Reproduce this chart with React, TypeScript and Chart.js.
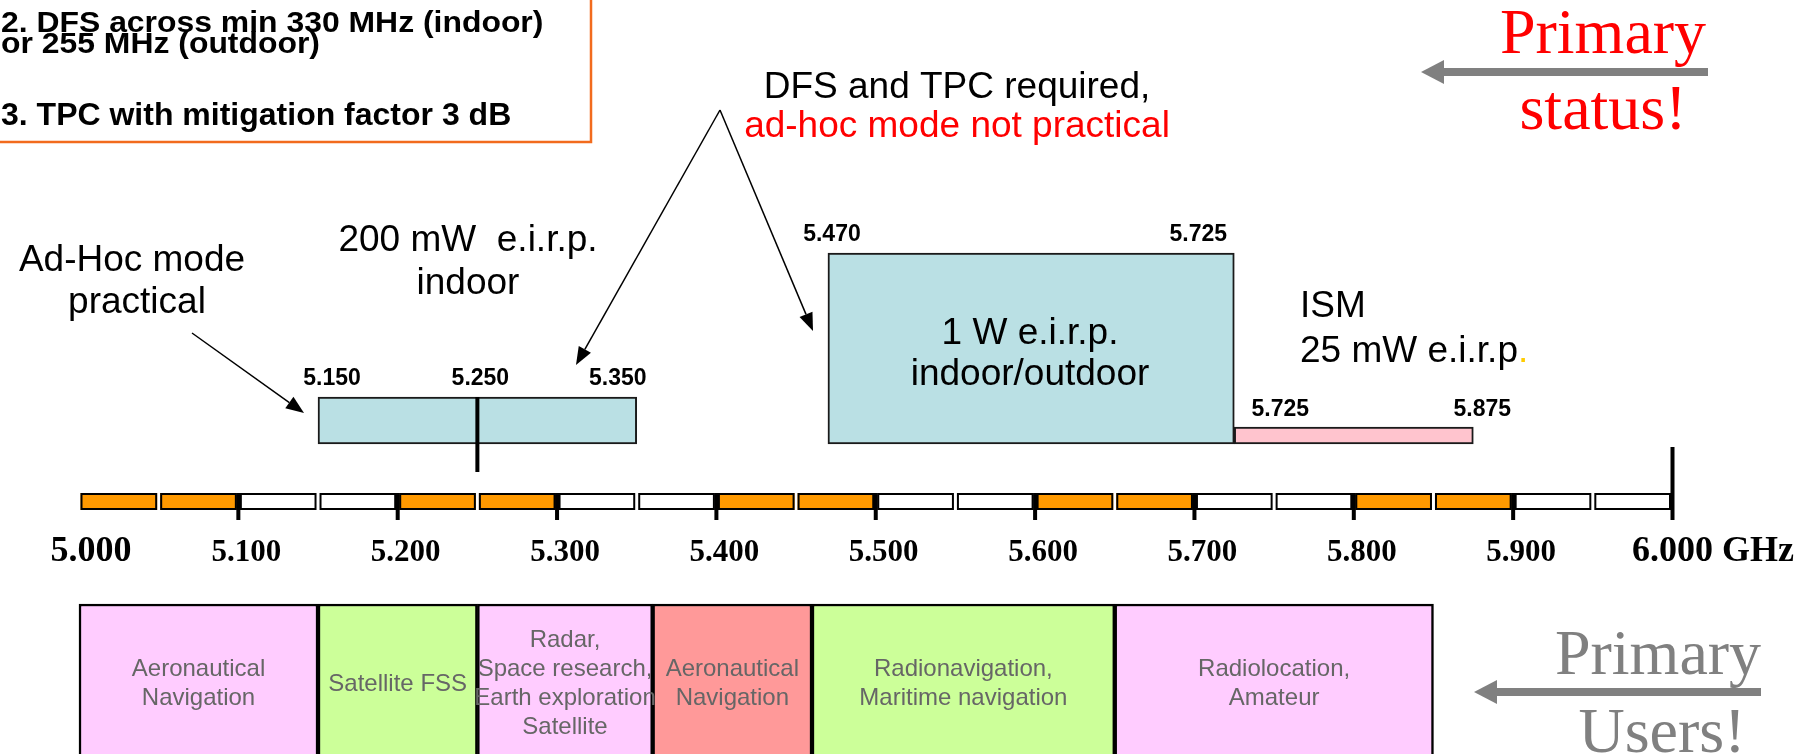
import React, { useEffect, useRef } from 'react';
import { Chart, registerables } from 'chart.js';

Chart.register(...registerables);

// ---------------- data ----------------
const axisTickValues = [5.0, 5.1, 5.2, 5.3, 5.4, 5.5, 5.6, 5.7, 5.8, 5.9, 6.0];
const axisTickLabels = ['5.000', '5.100', '5.200', '5.300', '5.400', '5.500', '5.600', '5.700', '5.800', '5.900', '6.000'];
const axisUnit = 'GHz';

const channelStarts = [5.0, 5.05, 5.1, 5.15, 5.2, 5.25, 5.3, 5.35, 5.4, 5.45, 5.5, 5.55, 5.6, 5.65, 5.7, 5.75, 5.8, 5.85, 5.9, 5.95];
const channelEnds = [5.05, 5.1, 5.15, 5.2, 5.25, 5.3, 5.35, 5.4, 5.45, 5.5, 5.55, 5.6, 5.65, 5.7, 5.75, 5.8, 5.85, 5.9, 5.95, 6.0];
const channelMarked = [true, true, false, false, true, true, false, false, true, true, false, false, true, true, false, false, true, true, false, false];

const rlanStart = [5.15, 5.47, 5.725];
const rlanEnd = [5.35, 5.725, 5.875];
const rlanSplit = 5.25;
const rlanEdgeValues = [5.15, 5.25, 5.35, 5.47, 5.725, 5.725, 5.875];
const rlanEdgeLabels = ['5.150', '5.250', '5.350', '5.470', '5.725', '5.725', '5.875'];

const userStart = [5.0, 5.15, 5.25, 5.36, 5.46, 5.65];
const userEnd = [5.15, 5.25, 5.36, 5.46, 5.65, 5.85];
const userLabels = [
  ['Aeronautical', 'Navigation'],
  ['Satellite FSS'],
  ['Radar,', 'Space research,', 'Earth exploration', 'Satellite'],
  ['Aeronautical', 'Navigation'],
  ['Radionavigation,', 'Maritime navigation'],
  ['Radiolocation,', 'Amateur'],
];

// ---------------- layout & style ----------------
const W = 1818;
const H = 754;
const SANS = '"Liberation Sans", Arial, Helvetica, sans-serif';
const SERIF = '"Liberation Serif", "Times New Roman", Times, serif';

const L = {
  xMin: 4.950424,
  xMax: 6.091309,
  stripTop: 493,
  stripBottom: 510,
  tickBottom: 520,
  endTickTop: 447,
  rlanBottom: 444,
  rlanTop: [397, 253, 427],
  splitBottom: 472,
  userTop: 604,
  userThickness: 200,
  tickLabelBaseline: 561,
  tickLabelShift: 8,
  firstLabelShift: 12,
  edgeLabelShift: [14, 3, -19, 4, -36, 46, 9],
  edgeLabelBaseline: [385, 385, 385, 241, 241, 416, 416],
  userLineHeight: 29,
  userTextCenter: 682,
};

const rlanColors = ['#BAE0E4', '#BAE0E4', '#FFC4CE'];
const userColors = ['#FFCCFF', '#CCFF99', '#FFCCFF', '#FF9999', '#CCFF99', '#FFCCFF'];

function drawArrow(ctx: CanvasRenderingContext2D, x0: number, y0: number, x1: number, y1: number, headLen: number, headW: number, lineW: number, color: string) {
  const ang = Math.atan2(y1 - y0, x1 - x0);
  const bx = x1 - headLen * Math.cos(ang);
  const by = y1 - headLen * Math.sin(ang);
  ctx.strokeStyle = color;
  ctx.lineWidth = lineW;
  ctx.beginPath();
  ctx.moveTo(x0, y0);
  ctx.lineTo(bx, by);
  ctx.stroke();
  ctx.fillStyle = color;
  ctx.beginPath();
  ctx.moveTo(x1, y1);
  ctx.lineTo(bx + headW * Math.sin(ang), by - headW * Math.cos(ang));
  ctx.lineTo(bx - headW * Math.sin(ang), by + headW * Math.cos(ang));
  ctx.closePath();
  ctx.fill();
}

function txt(ctx: CanvasRenderingContext2D, s: string, x: number, y: number, font: string, color: string, align: CanvasTextAlign = 'center', sx = 1) {
  ctx.save();
  ctx.font = font;
  ctx.fillStyle = color;
  ctx.textAlign = align;
  ctx.textBaseline = 'alphabetic';
  ctx.translate(x, y);
  ctx.scale(sx, 1);
  ctx.fillText(s, 0, 0);
  ctx.restore();
}

const diagramPlugin = {
  id: 'diagram',
  afterDatasetsDraw(chart: any) {
    const ctx: CanvasRenderingContext2D = chart.ctx;
    const xs = chart.scales.x;
    const px = (v: number) => xs.getPixelForValue(v);
    ctx.save();

    // channel strip
    for (let i = 0; i < channelStarts.length; i++) {
      const x0 = px(channelStarts[i]) + 1.5;
      const x1 = px(channelEnds[i]) - 1.5;
      ctx.fillStyle = channelMarked[i] ? '#FF9900' : '#FFFFFF';
      ctx.fillRect(x0, L.stripTop, x1 - x0, L.stripBottom - L.stripTop);
      ctx.strokeStyle = '#000';
      ctx.lineWidth = 2;
      ctx.strokeRect(x0 + 1, L.stripTop + 1, x1 - x0 - 2, L.stripBottom - L.stripTop - 2);
    }
    // ticks
    ctx.fillStyle = '#000';
    for (let i = 1; i < axisTickValues.length; i++) {
      const x = px(axisTickValues[i]);
      const top = i === axisTickValues.length - 1 ? L.endTickTop : L.stripTop;
      ctx.fillRect(x - 2, top, 4, L.tickBottom - top);
    }
    // tick labels
    for (let i = 0; i < axisTickValues.length; i++) {
      const x = px(axisTickValues[i]);
      const last = i === axisTickValues.length - 1;
      if (i === 0) {
        txt(ctx, axisTickLabels[i], x + L.firstLabelShift, L.tickLabelBaseline, `bold 36px ${SERIF}`, '#000');
      } else if (last) {
        ctx.font = `bold 36px ${SERIF}`;
        const w = ctx.measureText(axisTickLabels[i]).width;
        txt(ctx, axisTickLabels[i] + ' ' + axisUnit, x - w / 2, L.tickLabelBaseline, `bold 36px ${SERIF}`, '#000', 'left');
      } else {
        txt(ctx, axisTickLabels[i], x + L.tickLabelShift, L.tickLabelBaseline, `bold 31px ${SERIF}`, '#000');
      }
    }

    // split line at 5.250
    ctx.fillStyle = '#000';
    ctx.fillRect(px(rlanSplit) - 2, L.rlanTop[0], 4, L.splitBottom - L.rlanTop[0]);

    // edge labels
    for (let i = 0; i < rlanEdgeValues.length; i++) {
      txt(ctx, rlanEdgeLabels[i], px(rlanEdgeValues[i]) + L.edgeLabelShift[i], L.edgeLabelBaseline[i], `bold 23px ${SANS}`, '#000');
    }

    // user labels
    for (let i = 0; i < userLabels.length; i++) {
      const cx = px((userStart[i] + userEnd[i]) / 2);
      const lines = userLabels[i];
      const y0 = L.userTextCenter - ((lines.length - 1) * L.userLineHeight) / 2;
      lines.forEach((s, j) => {
        txt(ctx, s, cx, y0 + j * L.userLineHeight + 8.5, `24px ${SANS}`, '#666666');
      });
    }

    // Annotation texts
    const f37 = `37px ${SANS}`;
    txt(ctx, 'Ad-Hoc mode', 132, 271, f37, '#000');
    txt(ctx, 'practical', 137, 313, f37, '#000');
    txt(ctx, '200 mW  e.i.r.p.', 468, 251, f37, '#000');
    txt(ctx, 'indoor', 468, 294, f37, '#000');
    txt(ctx, '1 W e.i.r.p.', 1030, 344, f37, '#000');
    txt(ctx, 'indoor/outdoor', 1030, 385, f37, '#000');
    txt(ctx, 'ISM', 1300, 317, f37, '#000', 'left');
    txt(ctx, '25 mW e.i.r.p', 1300, 362, f37, '#000', 'left');
    ctx.font = f37;
    const w25 = ctx.measureText('25 mW e.i.r.p').width;
    txt(ctx, '.', 1300 + w25, 362, f37, '#FFCC00', 'left');
    txt(ctx, 'DFS and TPC required,', 957, 98, f37, '#000');
    txt(ctx, 'ad-hoc mode not practical', 957, 137, f37, '#FF0000');

    // black annotation arrows
    drawArrow(ctx, 192, 333, 304, 413, 18, 7, 1.5, '#000');
    drawArrow(ctx, 720, 110, 576, 365, 18, 7, 1.5, '#000');
    drawArrow(ctx, 720, 110, 813, 331, 18, 7, 1.5, '#000');

    // top-left box
    ctx.strokeStyle = '#F26B1D';
    ctx.lineWidth = 2.5;
    ctx.strokeRect(-3, -3, 594, 145);
    txt(ctx, '2. DFS across min 330 MHz (indoor)', 1, 32, `bold 29px ${SANS}`, '#000', 'left', 1.1);
    txt(ctx, 'or 255 MHz (outdoor)', 1, 53, `bold 29px ${SANS}`, '#000', 'left', 1.1);
    txt(ctx, '3. TPC with mitigation factor 3 dB', 1, 125, `bold 32px ${SANS}`, '#000', 'left');

    // Primary status / users
    const fs = `64px ${SERIF}`;
    txt(ctx, 'Primary', 1603, 53, fs, '#FF0000');
    txt(ctx, 'status!', 1603, 129, fs, '#FF0000');
    drawArrow(ctx, 1708, 72, 1421, 72, 23, 12, 8, '#808080');
    txt(ctx, 'Primary', 1658, 674, fs, '#808080');
    txt(ctx, 'Users!', 1662, 752, fs, '#808080');
    drawArrow(ctx, 1761, 692, 1474, 692, 23, 12, 8, '#808080');

    ctx.restore();
  },
};

export default function App() {
  const ref = useRef<HTMLCanvasElement>(null);
  useEffect(() => {
    const canvas = ref.current;
    if (!canvas) return;

    const datasets: any[] = rlanStart.map((s, i) => ({
      label: `RLAN ${i}`,
      data: [{ x: [s, rlanEnd[i]], y: (L.rlanTop[i] + L.rlanBottom) / 2 }],
      barThickness: L.rlanBottom - L.rlanTop[i],
      backgroundColor: rlanColors[i],
      borderColor: '#1a1a1a',
      borderWidth: 2,
      borderSkipped: false,
      grouped: false,
    }));
    datasets.push({
      label: 'Primary users',
      data: userStart.map((s, i) => ({ x: [s, userEnd[i]], y: L.userTop + L.userThickness / 2 })),
      barThickness: L.userThickness,
      backgroundColor: userColors,
      borderColor: '#000',
      borderWidth: 2.5,
      borderSkipped: false,
      grouped: false,
    });

    const chart = new Chart(canvas, {
      type: 'bar',
      data: { datasets },
      options: {
        indexAxis: 'y',
        animation: false,
        responsive: true,
        maintainAspectRatio: false,
        events: [],
        layout: { padding: 0 },
        plugins: { legend: { display: false }, tooltip: { enabled: false } },
        scales: {
          x: { type: 'linear', min: L.xMin, max: L.xMax, display: false, offset: false },
          y: { type: 'linear', min: 0, max: H, reverse: true, display: false, offset: false },
        },
      },
      plugins: [diagramPlugin],
    } as any);
    return () => chart.destroy();
  }, []);

  return (
    <div style={{ position: 'fixed', left: 0, top: 0, width: W, height: H, background: '#fff' }}>
      <canvas ref={ref} />
    </div>
  );
}
